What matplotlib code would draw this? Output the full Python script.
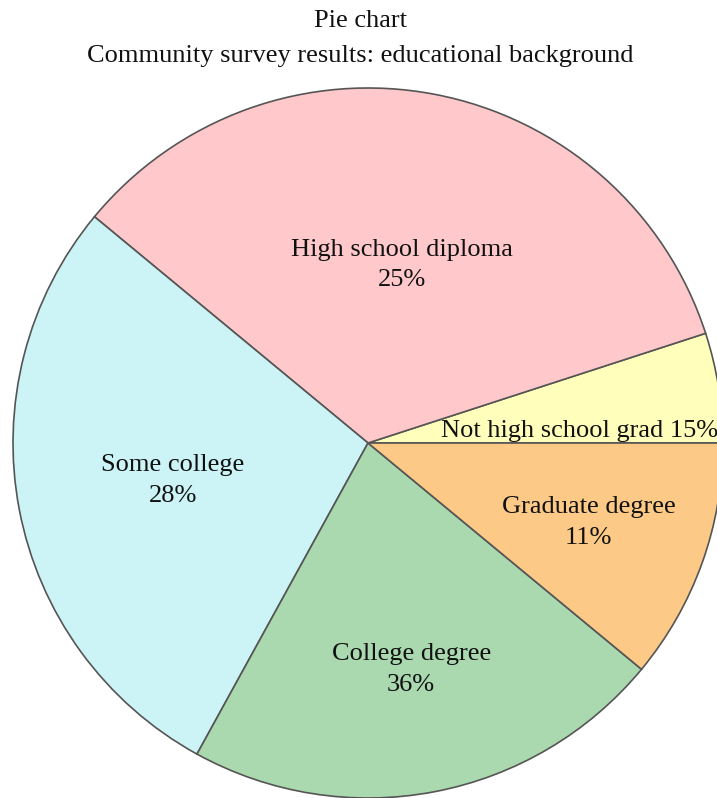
import numpy as np
import matplotlib
matplotlib.use("Agg")
import matplotlib.pyplot as plt

# Data
categories = ["Not high school grad", "High school diploma", "Some college",
              "College degree", "Graduate degree"]
slice_values = [5, 34, 28, 22, 11]          # wedge sizes
label_pcts = ["15%", "25%", "28%", "36%", "11%"]  # percentages printed in the chart
colors = ["#FFFFBB", "#FFC9CB", "#CCF3F5", "#AAD8AF", "#FCC986"]

title_lines = ["Pie chart", "Community survey results: educational background"]

W, H = 717, 798
fig = plt.figure(figsize=(W / 100, H / 100), dpi=100)
ax = fig.add_axes([0, 0, 1, 1])
ax.set_xlim(0, W)
ax.set_ylim(0, H)
ax.axis("off")

cx, cy, R = 368, H - 443, 355
wedges, _ = ax.pie(slice_values, colors=colors, startangle=0, counterclock=True,
                   center=(cx, cy), radius=R,
                   wedgeprops=dict(edgecolor="#555555", linewidth=1.2))
ax.set_xlim(0, W)
ax.set_ylim(0, H)
ax.set_aspect("equal")

font = dict(family="Liberation Serif", color="#111111")
fs = 19

# Labels
rfrac = [None, 0.51, 0.56, 0.65, 0.66]
for i, w in enumerate(wedges):
    if i == 0:
        x = cx + 0.595 * R * np.cos(np.deg2rad(w.theta1))
        y = cy + 0.595 * R * np.sin(np.deg2rad(w.theta1)) + 1
        ax.text(x, y, f"{categories[i]} {label_pcts[i]}", ha="center", va="bottom",
                fontsize=fs, **font)
        continue
    mid = np.deg2rad((w.theta1 + w.theta2) / 2)
    x = cx + rfrac[i] * R * np.cos(mid)
    y = cy + rfrac[i] * R * np.sin(mid)
    ax.text(x, y, f"{categories[i]}\n{label_pcts[i]}", ha="center", va="center",
            fontsize=fs, linespacing=1.5, **font)

ax.text(W / 2 + 2, H - 21, title_lines[0], ha="center", va="center", fontsize=fs, **font)
ax.text(W / 2 + 2, H - 56, title_lines[1], ha="center", va="center", fontsize=fs, **font)

fig.savefig("out.png", dpi=100)
